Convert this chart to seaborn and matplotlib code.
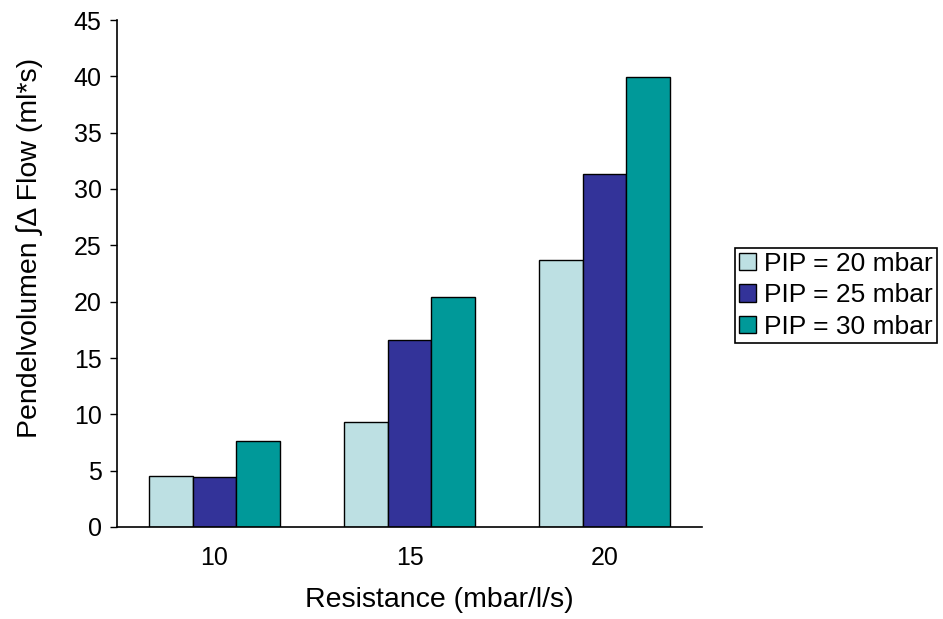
import pandas as pd
import matplotlib
matplotlib.use("Agg")
import matplotlib.pyplot as plt
import seaborn as sns

# Werte
resistance = ["10", "15", "20"]
pip_labels = ["PIP = 20 mbar", "PIP = 25 mbar", "PIP = 30 mbar"]
pip_20 = [4.55, 9.3, 23.7]
pip_25 = [4.45, 16.6, 31.3]
pip_30 = [7.6, 20.4, 39.9]
y_ticks = [0, 5, 10, 15, 20, 25, 30, 35, 40, 45]

colors = ["#bde0e3", "#333399", "#009999"]

rows = []
for label, values in zip(pip_labels, [pip_20, pip_25, pip_30]):
    for r, v in zip(resistance, values):
        rows.append({"Resistance": r, "PIP": label, "Wert": v})
df = pd.DataFrame(rows)

sns.set_style("white")
plt.rcParams["font.family"] = ["Liberation Sans", "DejaVu Sans"]
plt.rcParams["text.color"] = "black"
plt.rcParams["axes.labelcolor"] = "black"
plt.rcParams["xtick.color"] = "black"
plt.rcParams["ytick.color"] = "black"

fig = plt.figure(figsize=(9.43, 6.19), dpi=100)
ax = fig.add_axes([117 / 943, 1 - 527 / 619, 585 / 943, 507 / 619])

sns.barplot(data=df, x="Resistance", y="Wert", hue="PIP", order=resistance,
            hue_order=pip_labels, palette=colors, width=0.67, saturation=1,
            edgecolor="black", linewidth=1, ax=ax)

ax.set_xlim(-0.5, 2.5)
ax.set_ylim(0, 45)
ax.set_yticks(y_ticks)
ax.tick_params(axis="y", left=True, length=5, width=1, labelsize=18, pad=6)
ax.tick_params(axis="x", bottom=False, labelsize=18, pad=10)
for s in ["top", "right"]:
    ax.spines[s].set_visible(False)
for s in ["left", "bottom"]:
    ax.spines[s].set_color("black")
    ax.spines[s].set_linewidth(1.2)

ax.set_xlabel("Resistance (mbar/l/s)", fontsize=20.5)
ax.set_ylabel("Pendelvolumen \u222b\u0394 Flow (ml*s)", fontsize=20.5)
ax.xaxis.set_label_coords((439 - 117) / 585, -0.118)
ax.yaxis.set_label_coords((43 - 117) / 585, (527 - 248) / 507)

ax.legend(loc="upper left", bbox_to_anchor=(735 / 943, 1 - 248 / 619),
          bbox_transform=fig.transFigure, fontsize=19, frameon=True,
          fancybox=False, edgecolor="black", framealpha=1,
          handlelength=0.65, handleheight=0.65, handletextpad=0.3,
          borderpad=0.15, labelspacing=0.28, borderaxespad=0)
ax.get_legend().get_frame().set_linewidth(1.2)

fig.savefig("out.png", dpi=100)
